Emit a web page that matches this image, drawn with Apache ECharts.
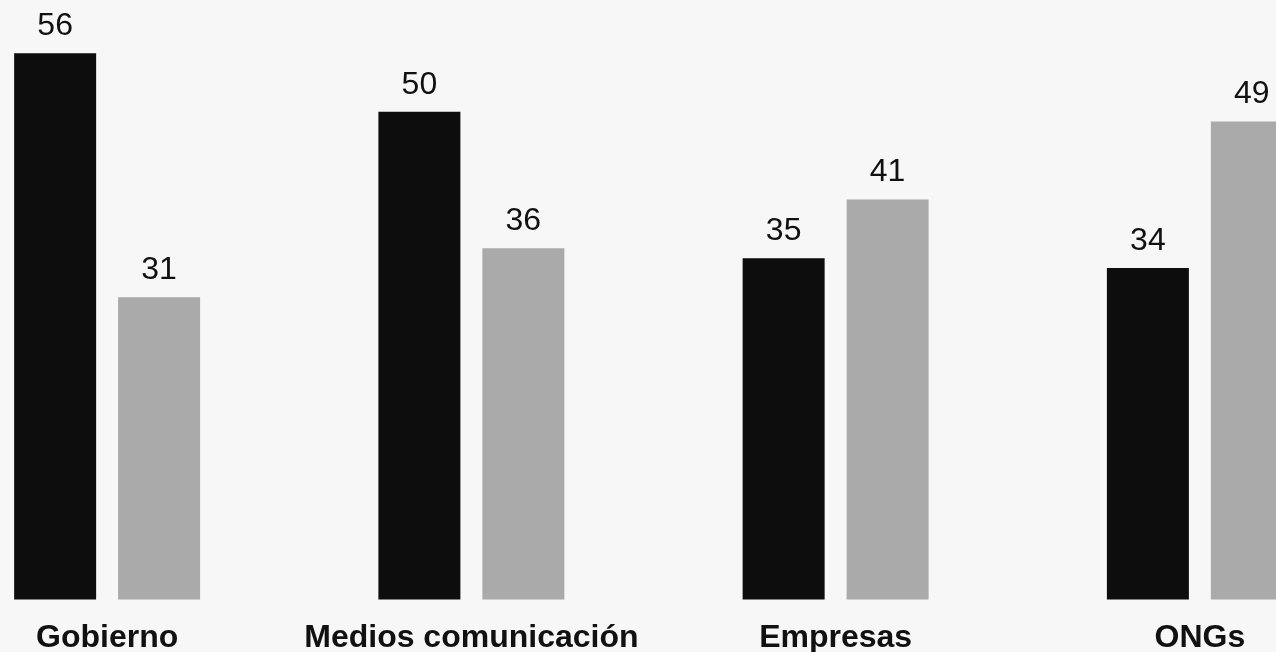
<!DOCTYPE html>
<html>
<head>
<meta charset="utf-8">
<script src="https://cdn.jsdelivr.net/npm/echarts@6/dist/echarts.min.js"></script>
<style>
  html, body { margin: 0; padding: 0; background: #f7f7f7; }
  #chart { width: 1276px; height: 652px; }
</style>
</head>
<body>
<div id="chart"></div>
<script>
// Trust by institution: two survey waves per category
const categories = ['Gobierno', 'Medios comunicación', 'Empresas', 'ONGs'];
const seriesA = [56, 50, 35, 34];
const seriesB = [31, 36, 41, 49];

const font = '"Liberation Sans", Arial, Helvetica, sans-serif';

const chart = echarts.init(document.getElementById('chart'), null, { renderer: 'canvas' });

const valueLabel = {
  show: true,
  position: 'top',
  distance: 11,
  color: '#111111',
  fontSize: 32,
  fontFamily: font
};

chart.setOption({
  backgroundColor: '#f7f7f7',
  animation: false,
  grid: {
    left: -75, right: -106, top: 53.3, bottom: 52.5,
    containLabel: false,
    outerBoundsMode: 'none'
  },
  xAxis: {
    type: 'category',
    data: categories,
    axisLine: { show: false },
    axisTick: { show: false },
    axisLabel: {
      margin: 23,
      color: '#111111',
      fontSize: 32,
      fontWeight: 'bold',
      fontFamily: font,
      interval: 0
    }
  },
  yAxis: {
    type: 'value',
    min: 0,
    max: 56,
    show: false,
    splitLine: { show: false }
  },
  series: [
    {
      type: 'bar',
      data: seriesA,
      barWidth: 82,
      barGap: '26.8%',
      itemStyle: { color: '#0d0d0d' },
      label: valueLabel
    },
    {
      type: 'bar',
      data: seriesB,
      barWidth: 82,
      itemStyle: { color: '#aaaaaa' },
      label: valueLabel
    }
  ]
});
</script>
</body>
</html>
